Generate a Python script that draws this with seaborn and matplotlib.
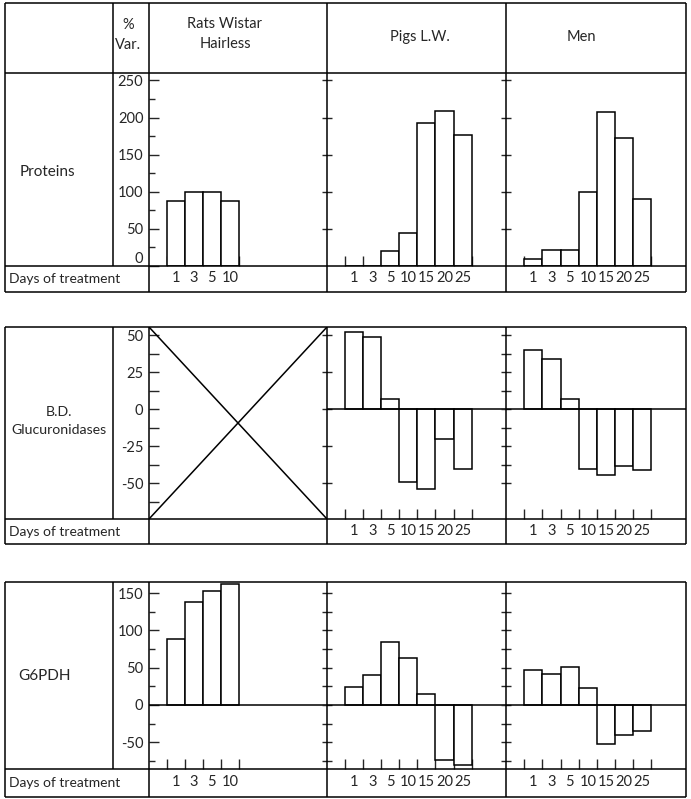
import numpy as np
import pandas as pd
import seaborn as sns
import matplotlib.pyplot as plt

sns.set_style('white')
plt.rcParams['font.family'] = ['Lato', 'DejaVu Sans']

# values (% variation)
rat_days = ['1', '3', '5', '10']
days = ['1', '3', '5', '10', '15', '20', '25']

prot_rats = [88, 100, 100, 88]
prot_pigs = [0, 0, 20, 45, 193, 209, 177]
prot_men = [10, 22, 22, 100, 207, 172, 90]

gluc_pigs = [52, 49, 7, -49, -54, -20, -40]
gluc_men = [40, 34, 7, -40, -44, -38, -41]

g6pdh_rats = [88, 138, 153, 162]
g6pdh_pigs = [24, 40, 85, 63, 15, -74, -80]
g6pdh_men = [47, 42, 51, 23, -52, -41, -35]

species = ['Rats Wistar\nHairless', 'Pigs L.W.', 'Men']
row_names = ['Proteins', 'B.D.\nGlucuronidases', 'G6PDH']

W, H = 691, 799
fig = plt.figure(figsize=(W / 100, H / 100), dpi=100)

cols = [5, 113, 149, 327, 506, 686]
# top, plot top, plot bottom, bottom (pixels)
blocks = [(3, 73, 266, 292), (327, 327, 519, 544), (582, 582, 769, 797)]
ylims = [(0, 260), (-74, 55.5), (-86, 165)]
LW = 1.1
FS = 10.5


def panel(x0, x1, y0, y1):
    ax = fig.add_axes([x0 / W, 1 - y1 / H, (x1 - x0) / W, (y1 - y0) / H])
    for s in ax.spines.values():
        s.set_visible(False)
    ax.set_facecolor('none')
    return ax


def bars(ax, labels, vals, ylim, pad):
    df = pd.DataFrame({'day': labels, 'var': vals})
    sns.barplot(data=df, x='day', y='var', order=labels, color='white',
                saturation=1, edgecolor='black', linewidth=LW, width=1.0, ax=ax)
    n = len(labels)
    ax.set_xlim(-1.5, 8.4)
    ax.set_ylim(*ylim)
    ax.set_xlabel('')
    ax.set_ylabel('')
    ax.set_xticks(range(n))
    ax.set_xticklabels(labels, fontsize=FS)
    ax.set_xticks(np.arange(n + 1) - 0.5, minor=True)
    ax.tick_params(axis='x', which='major', length=0, pad=pad)
    ax.tick_params(axis='x', which='minor', direction='in', length=7.5,
                   width=1, bottom=True)


def rat_yaxis(ax, major, minor, minlen):
    ax.set_yticks(major)
    ax.set_yticklabels([f'{v:g}' for v in major], fontsize=FS)
    ax.set_yticks(minor, minor=True)
    ax.tick_params(axis='y', which='major', direction='in', length=7,
                   width=1, left=True, pad=4)
    ax.tick_params(axis='y', which='minor', direction='in', length=minlen,
                   width=1, left=True)


def side_yaxis(ax, ticks):
    ax.set_yticks(ticks)
    ax.set_yticklabels([])
    ax.tick_params(axis='y', which='major', direction='inout', length=7,
                   width=1, left=True)


x_pads = [3.5, 3.5, 4.5]

# ---- Proteins ----
t, pt, pb, b = blocks[0]
ax = panel(cols[2], cols[3], pt, pb)
bars(ax, rat_days, prot_rats, ylims[0], x_pads[0])
rat_yaxis(ax, [0, 50, 100, 150, 200, 250], [25, 75, 125, 175, 225], 4)
ax.get_yticklabels()[0].set_va('bottom')
for x0, x1, vals in [(cols[3], cols[4], prot_pigs), (cols[4], cols[5], prot_men)]:
    ax = panel(x0, x1, pt, pb)
    bars(ax, days, vals, ylims[0], x_pads[0])
    side_yaxis(ax, [50, 100, 150, 200, 250])

# ---- B.D. Glucuronidases ----
t, pt, pb, b = blocks[1]
ax = panel(cols[2], cols[3], pt, pb)
ax.set_xlim(0, 1)
ax.set_ylim(*ylims[1])
ax.plot([0, 1], [1, 0], color='black', lw=LW, transform=ax.transAxes)
ax.plot([0, 1], [0, 1], color='black', lw=LW, transform=ax.transAxes)
ax.set_xticks([])
rat_yaxis(ax, [-50, -25, 0, 25, 50], [-62.5, -37.5, -12.5, 12.5, 37.5], 7)
for x0, x1, vals, tk in [(cols[3], cols[4], gluc_pigs, np.arange(-50, 51, 25)),
                         (cols[4], cols[5], gluc_men, np.arange(-50, 51, 12.5))]:
    ax = panel(x0, x1, pt, pb)
    bars(ax, days, vals, ylims[1], x_pads[1])
    ax.axhline(0, color='black', lw=LW)
    side_yaxis(ax, tk)

# ---- G6PDH ----
t, pt, pb, b = blocks[2]
ax = panel(cols[2], cols[3], pt, pb)
bars(ax, rat_days, g6pdh_rats, ylims[2], x_pads[2])
ax.axhline(0, color='black', lw=LW)
rat_yaxis(ax, [-50, 0, 50, 100, 150], [-75, -25, 25, 75, 125], 4)
for x0, x1, vals in [(cols[3], cols[4], g6pdh_pigs), (cols[4], cols[5], g6pdh_men)]:
    ax = panel(x0, x1, pt, pb)
    bars(ax, days, vals, ylims[2], x_pads[2])
    ax.axhline(0, color='black', lw=LW)
    side_yaxis(ax, np.arange(-75, 151, 25))

# ---- table frame and labels ----
frame = fig.add_axes([0, 0, 1, 1], zorder=10)
frame.set_xlim(0, W)
frame.set_ylim(H, 0)
frame.axis('off')
frame.patch.set_alpha(0)

for i, (t, pt, pb, b) in enumerate(blocks):
    ys = [t, pb, b] + ([pt] if pt != t else [])
    frame.hlines(ys, cols[0], cols[-1], color='black', lw=LW)
    frame.vlines([cols[0], cols[2], cols[3], cols[4], cols[5]], t, b, color='black', lw=LW)
    frame.vlines(cols[1], t, pb, color='black', lw=LW)
    frame.text(9, (pb + b) / 2, 'Days of treatment', fontsize=10, ha='left', va='center')

frame.text(128, 35, '%\nVar.', fontsize=FS, ha='center', va='center', linespacing=1.5)
frame.text(225, 34, species[0], fontsize=FS, ha='center', va='center', linespacing=1.5)
frame.text(420, 37, species[1], fontsize=FS, ha='center', va='center')
frame.text(581, 37, species[2], fontsize=FS, ha='center', va='center')

frame.text(20, 172, row_names[0], fontsize=FS + 0.5, ha='left', va='center')
frame.text(59, 421, row_names[1], fontsize=10.2, ha='center', va='center', linespacing=1.5)
frame.text(18, 676, row_names[2], fontsize=FS + 0.5, ha='left', va='center')

fig.savefig('out.png', dpi=100, facecolor='white')
